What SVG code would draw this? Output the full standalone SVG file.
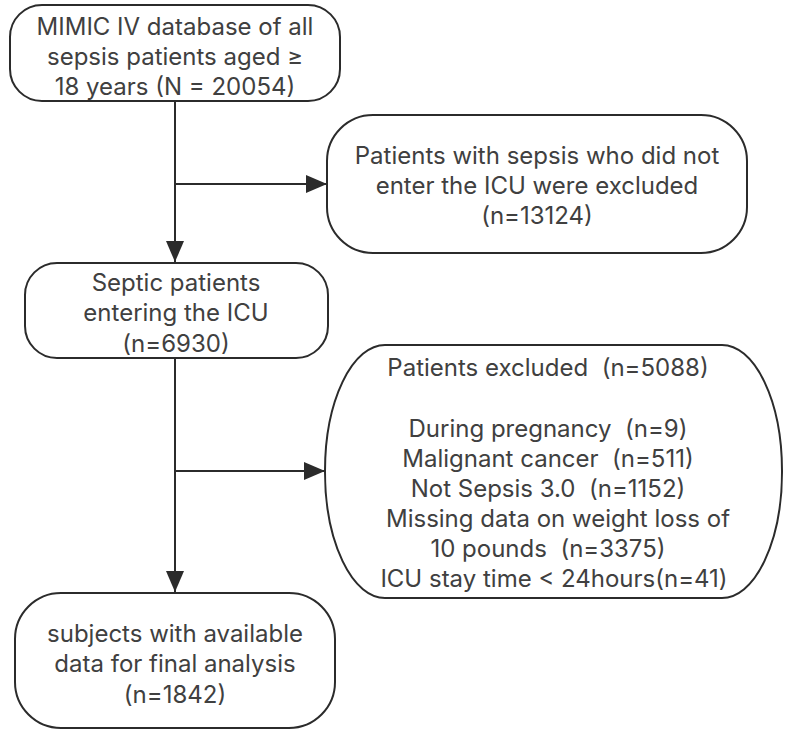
<svg xmlns="http://www.w3.org/2000/svg" width="788" height="741" viewBox="0 0 788 741">
<style>
.box{fill:#fff;stroke:#2b2b2b;stroke-width:2}
.t{font-family:Inter,"Open Sans",sans-serif;font-size:24px;fill:#404040;text-anchor:middle;white-space:pre}
.c{stroke:#2b2b2b;stroke-width:2;fill:none}
</style>
<defs>
<marker id="ah" markerUnits="userSpaceOnUse" markerWidth="24" markerHeight="20" refX="21" refY="10" orient="auto">
<path d="M0,1 L21,10 L0,19 Z" fill="#2b2b2b"/>
</marker>
</defs>
<rect width="788" height="741" fill="#fff"/>
<g id="connectors">
<path class="c" d="M175,101 V262" marker-end="url(#ah)"/>
<path class="c" d="M175,184 H327" marker-end="url(#ah)"/>
<path class="c" d="M175,358 V592" marker-end="url(#ah)"/>
<path class="c" d="M175,471 H325" marker-end="url(#ah)"/>
</g>
<g id="n1">
<rect class="box" x="10" y="5" width="330" height="96" rx="32" ry="32"/>
<text class="t" x="175" y="35">MIMIC IV database of all</text>
<text class="t" x="175" y="65">sepsis patients aged ≥</text>
<text class="t" x="175" y="95">18 years (N = 20054)</text>
</g>
<g id="n2">
<rect class="box" x="327" y="115" width="420" height="138" rx="46" ry="46"/>
<text class="t" x="537" y="164">Patients with sepsis who did not</text>
<text class="t" x="537" y="194">enter the ICU were excluded</text>
<text class="t" x="537" y="224">(n=13124)</text>
</g>
<g id="n3">
<rect class="box" x="25" y="263" width="303" height="95" rx="32" ry="32"/>
<text class="t" x="176" y="291">Septic patients</text>
<text class="t" x="176" y="321">entering the ICU</text>
<text class="t" x="176" y="352">(n=6930)</text>
</g>
<g id="n4">
<rect class="box" x="325" y="345" width="457" height="253" rx="60" ry="126"/>
<text class="t" x="548" y="376">Patients excluded  (n=5088)</text>
<text class="t" x="548" y="437">During pregnancy  (n=9)</text>
<text class="t" x="548" y="467">Malignant cancer  (n=511)</text>
<text class="t" x="548" y="497">Not Sepsis 3.0  (n=1152)</text>
<text class="t" x="558" y="527">Missing data on weight loss of</text>
<text class="t" x="548" y="557">10 pounds  (n=3375)</text>
<text class="t" x="554" y="587">ICU stay time &lt; 24hours(n=41)</text>
</g>
<g id="n5">
<rect class="box" x="15" y="593" width="320" height="135" rx="46" ry="46"/>
<text class="t" x="175" y="642">subjects with available</text>
<text class="t" x="175" y="672">data for final analysis</text>
<text class="t" x="175" y="703">(n=1842)</text>
</g>
</svg>
